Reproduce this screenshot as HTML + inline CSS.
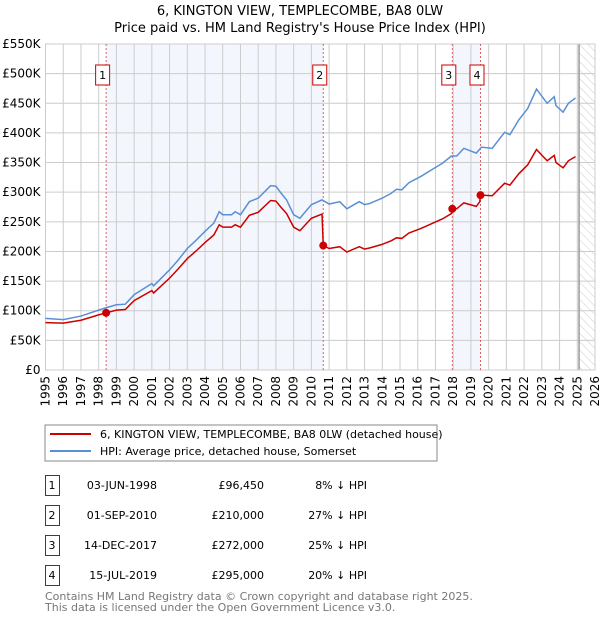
<!DOCTYPE html>
<html><head><meta charset="utf-8"><style>
body{margin:0;background:#fff;font-family:"Liberation Sans","DejaVu Sans",sans-serif}
svg text{font-family:"DejaVu Sans","Liberation Sans",sans-serif}
</style></head><body>
<svg id="c" width="600" height="620" viewBox="0 0 600 620" xmlns="http://www.w3.org/2000/svg">
<defs><pattern id="hatch" width="6" height="6" patternUnits="userSpaceOnUse" patternTransform="rotate(-45)"><line x1="0" y1="0" x2="0" y2="6" stroke="#ccc" stroke-width="1"/></pattern></defs>
<text x="300" y="15" text-anchor="middle" font-size="13">6, KINGTON VIEW, TEMPLECOMBE, BA8 0LW</text>
<text x="300" y="32" text-anchor="middle" font-size="13">Price paid vs. HM Land Registry's House Price Index (HPI)</text>
<g id="plot"></g>
<rect x="45" y="425" width="392" height="36" fill="#fff" stroke="#888"/>
<line x1="50" y1="434" x2="91" y2="434" stroke="#cc0000" stroke-width="2"/>
<text x="100" y="438" font-size="11">6, KINGTON VIEW, TEMPLECOMBE, BA8 0LW (detached house)</text>
<line x1="50" y1="451" x2="91" y2="451" stroke="#5b8fd4" stroke-width="2"/>
<text x="100" y="455" font-size="11">HPI: Average price, detached house, Somerset</text>
<g id="table" font-size="11"></g>
<text x="45" y="600" font-size="11" fill="#777">Contains HM Land Registry data © Crown copyright and database right 2025.</text>
<text x="45" y="611" font-size="11" fill="#777">This data is licensed under the Open Government Licence v3.0.</text>
</svg>
<script>
const hpiYears=[1995,1996,1997,1998,1998.42,1999,1999.5,2000,2001,2001.1,2002,2002.5,2003,2003.5,2004,2004.5,2004.8,2005,2005.5,2005.7,2006,2006.5,2007,2007.7,2008,2008.3,2008.6,2009,2009.35,2010,2010.6,2011,2011.6,2012,2012.7,2013,2013.3,2014,2014.5,2014.8,2015.1,2015.5,2016.2,2016.8,2017.4,2017.9,2018.2,2018.6,2019.3,2019.6,2020.2,2020.9,2021.2,2021.7,2022.2,2022.7,2023.3,2023.7,2023.8,2024.2,2024.5,2024.9];
const hpiValues=[87,85,91,101,105,110,111,127,146,142,169,186,205,219,234,248,267,262,262,267,262,284,290,311,310,298,287,262,256,279,287,280,284,272,284,279,281,290,298,305,304,316,327,338,349,361,361,374,366,376,374,401,397,422,441,474,450,461,446,435,450,459];
const priceYears=[1995,1996,1997,1998,1998.42,1999,1999.5,2000,2001,2001.1,2002,2002.5,2003,2003.5,2004,2004.5,2004.8,2005,2005.5,2005.7,2006,2006.5,2007,2007.7,2008,2008.3,2008.6,2009,2009.35,2010,2010.6,2010.67,2011,2011.6,2012,2012.7,2013,2013.3,2014,2014.5,2014.8,2015.1,2015.5,2016.2,2016.8,2017.4,2017.9,2017.95,2018.2,2018.6,2019.3,2019.5,2019.54,2019.6,2020.2,2020.9,2021.2,2021.7,2022.2,2022.7,2023.3,2023.7,2023.8,2024.2,2024.5,2024.9];
const priceValues=[80,79,84,93,96.45,101,102,117,134,130,155,171,188,201,215,228,245,241,241,245,241,261,266,286,285,274,264,241,235,256,263,210,205,208,199,208,204,206,212,218,223,222,231,239,247,255,264,272,272,282,276,284,295,295,294,315,312,331,346,372,353,362,350,341,353,360];
const saleLabels=["1","2","3","4"];
const saleYears=[1998.42,2010.67,2017.95,2019.54];
const saleValues=[96.45,210,272,295];
const saleDates=["03-JUN-1998","01-SEP-2010","14-DEC-2017","15-JUL-2019"];
const salePrices=["£96,450","£210,000","£272,000","£295,000"];
const saleDiffs=["8% ↓ HPI","27% ↓ HPI","25% ↓ HPI","20% ↓ HPI"];
const yTicks=[0,50,100,150,200,250,300,350,400,450,500,550];
const yTickLabels=["£0","£50K","£100K","£150K","£200K","£250K","£300K","£350K","£400K","£450K","£500K","£550K"];
const xTicks=[1995,1996,1997,1998,1999,2000,2001,2002,2003,2004,2005,2006,2007,2008,2009,2010,2011,2012,2013,2014,2015,2016,2017,2018,2019,2020,2021,2022,2023,2024,2025,2026];
const dataEnd=2025.1;
const L=45.5,R=595,T=44,B=370;
const xS=y=>L+(y-1995)/(2026-1995)*(R-L);
const yS=v=>B-v/550*(B-T);
const NS="http://www.w3.org/2000/svg";
const plot=document.getElementById('plot');
function mk(tag,attrs,parent){const e=document.createElementNS(NS,tag);for(const k in attrs)e.setAttribute(k,attrs[k]);(parent||plot).appendChild(e);return e;}
for(let i=0;i<saleYears.length;i+=2){
  const x1=xS(saleYears[i]),x2=xS(saleYears[i+1]);
  const r=mk('rect',{x:x1,y:T,width:x2-x1,height:B-T,fill:'#eef3fc',opacity:0.7});
  
  
}
const h=mk('rect',{x:xS(dataEnd),y:T,width:R-xS(dataEnd),height:B-T,fill:'url(#hatch)'});


yTicks.forEach((v,i)=>{
  const g=mk('line',{x1:L,x2:R,y1:yS(v),y2:yS(v),stroke:'#cccccc','stroke-width':1});
  
  
  const t=mk('text',{x:L-5,y:yS(v)+4,'text-anchor':'end','font-size':12});
  t.textContent=yTickLabels[i];
  
  
});
xTicks.forEach(y=>{
  const g=mk('line',{x1:xS(y),x2:xS(y),y1:T,y2:B,stroke:'#cccccc','stroke-width':1});
  
  
  const t=mk('text',{x:0,y:0,'text-anchor':'end','font-size':12,transform:`translate(${xS(y)+4},${B+6}) rotate(-90)`});
  t.textContent=y;
  
  
});
const el=mk('line',{x1:xS(dataEnd),x2:xS(dataEnd),y1:T,y2:B,stroke:'#999','stroke-width':1.5});


const fr=mk('rect',{x:L,y:T,width:R-L,height:B-T,fill:'none',stroke:'#cccccc'});


saleYears.forEach((y,i)=>{
  const v=mk('line',{x1:xS(y),x2:xS(y),y1:T,y2:B,stroke:'#e06060','stroke-width':1,'stroke-dasharray':'2,2'});
  
  
});
const hp=mk('polyline',{points:hpiYears.map((y,i)=>xS(y)+','+yS(hpiValues[i])).join(' '),fill:'none',stroke:'#5b8fd4','stroke-width':1.5});


const pp=mk('polyline',{points:priceYears.map((y,i)=>xS(y)+','+yS(priceValues[i])).join(' '),fill:'none',stroke:'#cc0000','stroke-width':1.5});


saleYears.forEach((y,i)=>{
  const c=mk('circle',{cx:xS(y),cy:yS(saleValues[i]),r:4,fill:'#cc0000'});
  
  
  const cx=xS(y)-3.5;
  const b=mk('rect',{x:cx-7,y:65,width:14,height:20,fill:'#fff',stroke:'#cc0000'});
  
  
  const t=mk('text',{x:cx,y:79,'text-anchor':'middle','font-size':11});
  t.textContent=saleLabels[i];
  
  
});
const tb=document.getElementById('table');
saleLabels.forEach((s,i)=>{
  const y=475+i*30;
  const b=mk('rect',{x:45.5,y:y+0.5,width:14,height:20,fill:'#fff',stroke:'#cc0000'},tb);
  
  
  const cells=[[52,'middle',s],[157,'end',saleDates[i]],[264,'end',salePrices[i]],[367,'end',saleDiffs[i]]];
  cells.forEach(c=>{
    const t=mk('text',{x:c[0],y:y+14,'text-anchor':c[1],'font-size':11},tb);
    t.textContent=c[2];
    
    
  });
});
</script>
</body></html>
